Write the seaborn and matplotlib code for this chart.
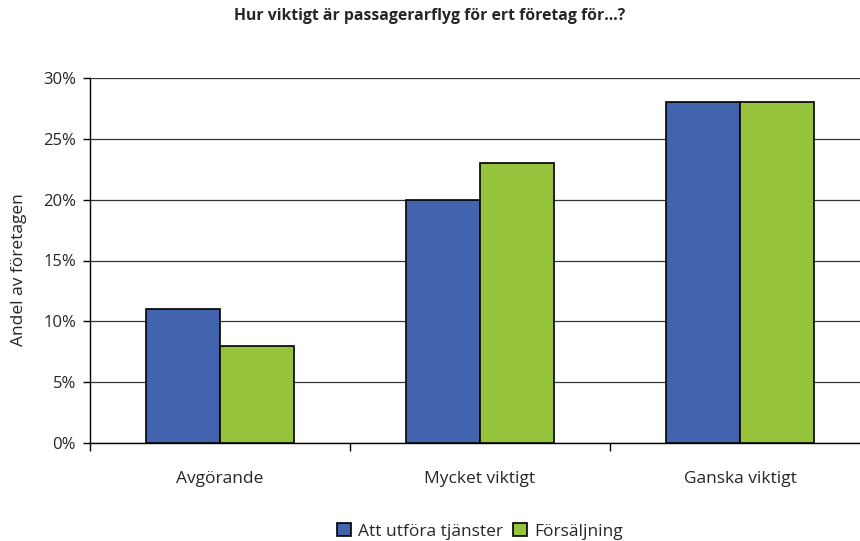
import numpy as np
import pandas as pd
import matplotlib
matplotlib.use("Agg")
import matplotlib.pyplot as plt
import seaborn as sns

# Data (percent of companies)
categories = ["Avgörande", "Mycket viktigt", "Ganska viktigt"]
series_names = ["Att utföra tjänster", "Försäljning"]
tjanster = [11, 20, 28]
forsaljning = [8, 23, 28]
y_ticks = [0, 5, 10, 15, 20, 25, 30]

df = pd.DataFrame({
    "kategori": categories * 2,
    "serie": [series_names[0]] * 3 + [series_names[1]] * 3,
    "andel": tjanster + forsaljning,
})

sns.set_style("white")
plt.rcParams["font.family"] = ["Open Sans", "DejaVu Sans"]

fig = plt.figure(figsize=(8.6, 5.41), dpi=100)
ax = fig.add_axes([90 / 860, 98 / 541, 780 / 860, 365 / 541])

palette = {series_names[0]: "#4263AE", series_names[1]: "#95C33C"}
sns.barplot(data=df, x="kategori", y="andel", hue="serie", order=categories,
            hue_order=series_names, palette=palette, width=0.57,
            edgecolor="black", linewidth=1.2, saturation=1, ax=ax, zorder=3)

# axes / grid
ax.set_xlim(-0.5, 2.5)
ax.set_ylim(0, 30)
ax.set_yticks(y_ticks)
ax.set_yticklabels([f"{t}%" for t in y_ticks], fontsize=12)
ax.yaxis.grid(True, color="#333333", linewidth=0.9)
ax.set_axisbelow(True)
for side in ["top", "right"]:
    ax.spines[side].set_visible(False)
for side in ["left", "bottom"]:
    ax.spines[side].set_color("black")
    ax.spines[side].set_linewidth(1)
ax.tick_params(axis="y", which="major", direction="out", length=5, width=1,
               color="black", left=True, pad=5)

# category separators as major ticks, labels on minor ticks
ax.set_xticks([-0.5, 0.5, 1.5, 2.5])
ax.set_xticklabels([])
ax.set_xticks([0, 1, 2], minor=True)
ax.set_xticklabels(categories, minor=True, fontsize=12.5)
ax.tick_params(axis="x", which="major", direction="out", length=6, width=1,
               color="black", bottom=True)
ax.tick_params(axis="x", which="minor", length=0, pad=20)

ax.set_xlabel("")
ax.set_ylabel("Andel av företagen", fontsize=12.5)
ax.yaxis.set_label_coords(-0.081, 0.474)

fig.suptitle("Hur viktigt är passagerarflyg för ert företag för...?",
             x=0.5, y=0.985, fontsize=11.3, fontweight="bold")

handles, labels = ax.get_legend_handles_labels()
ax.get_legend().remove()
fig.legend(handles, labels, loc="center", bbox_to_anchor=(0.558, 0.018),
           ncol=2, frameon=False, fontsize=12.5, handlelength=0.8,
           handleheight=0.8, handletextpad=0.4, columnspacing=0.6)

fig.savefig("out.png", dpi=100)
